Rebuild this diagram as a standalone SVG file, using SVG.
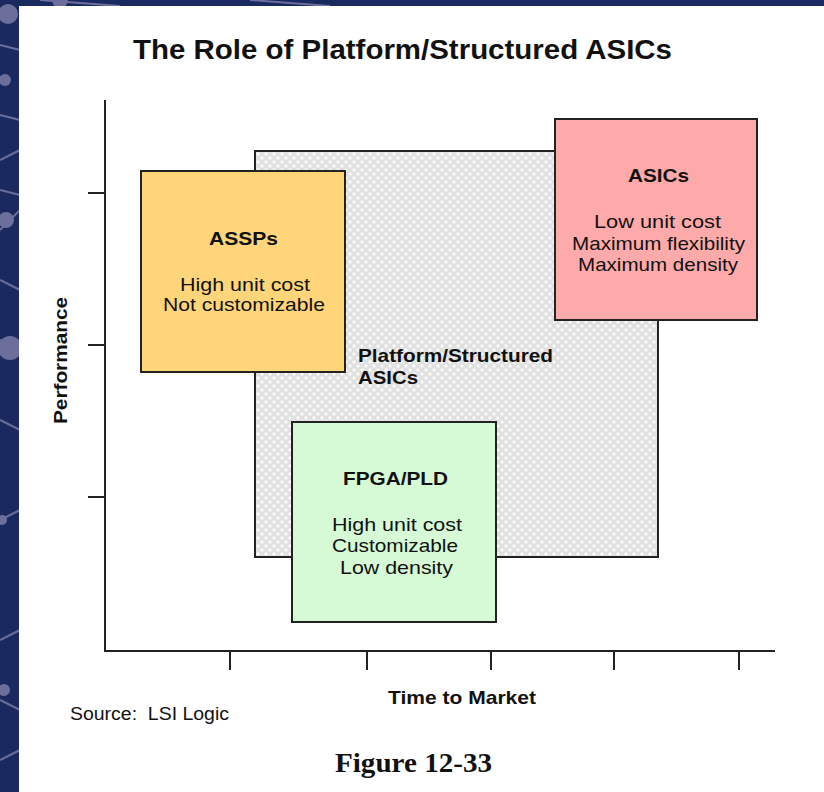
<svg xmlns="http://www.w3.org/2000/svg" width="824" height="792" viewBox="0 0 824 792">
<defs>
<pattern id="dots" width="8" height="8" patternUnits="userSpaceOnUse">
<rect width="8" height="8" fill="#e0e0e0"/>
<circle cx="2" cy="2" r="1.7" fill="#fafafa"/>
<circle cx="6" cy="6" r="1.7" fill="#fafafa"/>
</pattern>
<style>
text{font-family:"Liberation Sans",Arial,sans-serif;fill:#111}
.b{font-weight:bold}
.t{font-size:19px;text-anchor:middle}
.box{stroke:#222;stroke-width:2}
.ax{stroke:#222;stroke-width:2;fill:none}
.net{stroke:#6c6f9c;stroke-width:2;fill:none}
.nd{fill:#6c6f9c}
</style>
</defs>
<rect width="824" height="792" fill="#1a2a60"/>
<g id="network">
<path class="net" d="M0 45 L20 50 M0 115 L20 120 M0 160 L20 150 M0 190 L20 195 M0 230 L20 210 M0 280 L20 290 M0 340 L20 345 M0 420 L20 430 M0 520 L20 510 M0 640 L20 630 M0 700 L20 710 M0 760 L20 750 M40 0 L120 6 M250 0 L330 6"/>
<circle class="nd" cx="8" cy="14" r="10"/>
<circle class="nd" cx="5" cy="80" r="6"/>
<circle class="nd" cx="6" cy="220" r="8"/>
<circle class="nd" cx="10" cy="348" r="12"/>
<circle class="nd" cx="2" cy="520" r="5"/>
<circle class="nd" cx="4" cy="690" r="6"/>
<circle class="nd" cx="60" cy="0" r="8"/>
</g>
<rect x="19" y="6" width="805" height="786" fill="#fff"/>
<text class="b" x="402.5" y="59" font-size="28" text-anchor="middle" textLength="539" lengthAdjust="spacingAndGlyphs">The Role of Platform/Structured ASICs</text>
<g id="axes">
<path class="ax" d="M105 100 V651 H775"/>
<path class="ax" d="M88 193 H105 M88 345 H105 M88 497 H105 M230 651 V670 M367 651 V670 M491 651 V670 M614 651 V670 M739 651 V670"/>
</g>
<g id="platform">
<rect class="box" x="255" y="151" width="403" height="406" fill="url(#dots)"/>
<text class="b" x="358" y="362" font-size="18.5" textLength="195" lengthAdjust="spacingAndGlyphs">Platform/Structured</text>
<text class="b" x="358" y="384" font-size="18.5" textLength="60" lengthAdjust="spacingAndGlyphs">ASICs</text>
</g>
<g id="assps">
<rect class="box" x="141" y="171" width="204" height="201" fill="#ffd57a"/>
<text class="b t" x="243.5" y="245" textLength="69" lengthAdjust="spacingAndGlyphs">ASSPs</text>
<text class="t" x="245" y="290.5" textLength="130" lengthAdjust="spacingAndGlyphs">High unit cost</text>
<text class="t" x="244" y="311" textLength="162" lengthAdjust="spacingAndGlyphs">Not customizable</text>
</g>
<g id="asics">
<rect class="box" x="555" y="119" width="202" height="201" fill="#ffaaaa"/>
<text class="b t" x="658.5" y="182" textLength="61" lengthAdjust="spacingAndGlyphs">ASICs</text>
<text class="t" x="657.5" y="228" textLength="127" lengthAdjust="spacingAndGlyphs">Low unit cost</text>
<text class="t" x="658.5" y="249.5" textLength="173" lengthAdjust="spacingAndGlyphs">Maximum flexibility</text>
<text class="t" x="658" y="271" textLength="160" lengthAdjust="spacingAndGlyphs">Maximum density</text>
</g>
<g id="fpga">
<rect class="box" x="292" y="422" width="204" height="200" fill="#d5fad5"/>
<text class="b t" x="395.5" y="485" textLength="105" lengthAdjust="spacingAndGlyphs">FPGA/PLD</text>
<text class="t" x="397" y="530.5" textLength="130" lengthAdjust="spacingAndGlyphs">High unit cost</text>
<text class="t" x="395" y="552" textLength="126" lengthAdjust="spacingAndGlyphs">Customizable</text>
<text class="t" x="396.5" y="574" textLength="113" lengthAdjust="spacingAndGlyphs">Low density</text>
</g>
<text class="b" font-size="18" text-anchor="middle" textLength="127" lengthAdjust="spacingAndGlyphs" transform="translate(67 360.5) rotate(-90)">Performance</text>
<text class="b" x="462" y="704" font-size="19" text-anchor="middle" textLength="148" lengthAdjust="spacingAndGlyphs">Time to Market</text>
<text x="70" y="720" font-size="18" textLength="159" lengthAdjust="spacingAndGlyphs" xml:space="preserve">Source:  LSI Logic</text>
<text x="413.5" y="772" font-size="28" text-anchor="middle" font-weight="bold" textLength="157" lengthAdjust="spacingAndGlyphs" style="font-family:'Liberation Serif','Times New Roman',serif">Figure 12-33</text>
</svg>
